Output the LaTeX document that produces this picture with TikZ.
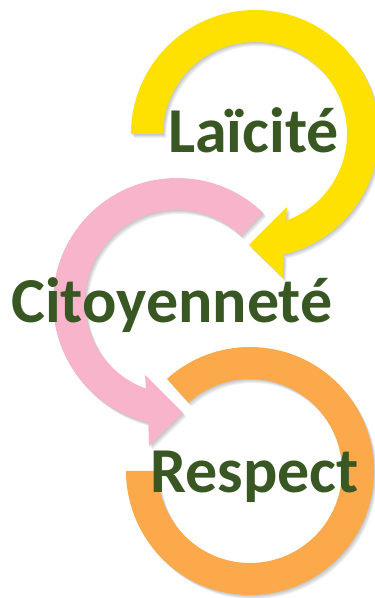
\documentclass[tikz,border=0pt]{standalone}
\usepackage{fontspec}
\setmainfont{Carlito}
\definecolor{ringyellow}{HTML}{FFE100}
\definecolor{ringpink}{HTML}{F7B4CB}
\definecolor{ringorange}{HTML}{FBA94B}
\definecolor{wordgreen}{HTML}{385723}
\tikzset{
  yellowring/.style={insert path={(180:124) arc[start angle=180, end angle=-76.6, radius=124]
      -- (28,-144) -- (-6,-111) -- (32,-73) -- (-70.3:92)
      arc[start angle=-70.3, end angle=180, radius=92] -- cycle}},
  pinkring/.style={insert path={(46:124) arc[start angle=46, end angle=256.6, radius=124]
      -- (-28,-144) -- (6,-111) -- (-32,-73) -- (250.3:92)
      arc[start angle=250.3, end angle=46, radius=92] -- cycle}},
  orangering/.style={insert path={(132:124) arc[start angle=132, end angle=-180, radius=124]
      -- (-180:92) arc[start angle=-180, end angle=132, radius=92] -- cycle}},
  word/.style={font=\fontsize{64}{72}\selectfont\bfseries, inner sep=0pt, anchor=base west, text=wordgreen},
}
\begin{document}
\begin{tikzpicture}[x=1pt,y=1pt]
\useasboundingbox (0,0) rectangle (375,598);
\clip (0,0) rectangle (375,598);
% yellow ring
\begin{scope}[shift={(255,464)}]
  \foreach \d in {1,2,3,4} {\fill[black, opacity=0.06, shift={(\d*0.8,-\d)}, yellowring];}
  \fill[ringyellow, yellowring];
\end{scope}
% pink ring
\begin{scope}[shift={(177,296)}]
  \foreach \d in {1,2,3,4} {\fill[black, opacity=0.06, shift={(\d*0.8,-\d)}, pinkring];}
  \fill[ringpink, pinkring];
\end{scope}
% orange ring
\begin{scope}[shift={(250,127)}]
  \foreach \d in {1,2,3,4} {\fill[black, opacity=0.06, shift={(\d*0.8,-\d)}, orangering];}
  \fill[ringorange, orangering];
\end{scope}
% words
\node[word] (laic) at (168,445) {Laïcité};
\node[word] (cito) at (11,275) {Citoyenneté};
\node[word] (resp) at (150,105) {Respect};
\end{tikzpicture}
\end{document}
